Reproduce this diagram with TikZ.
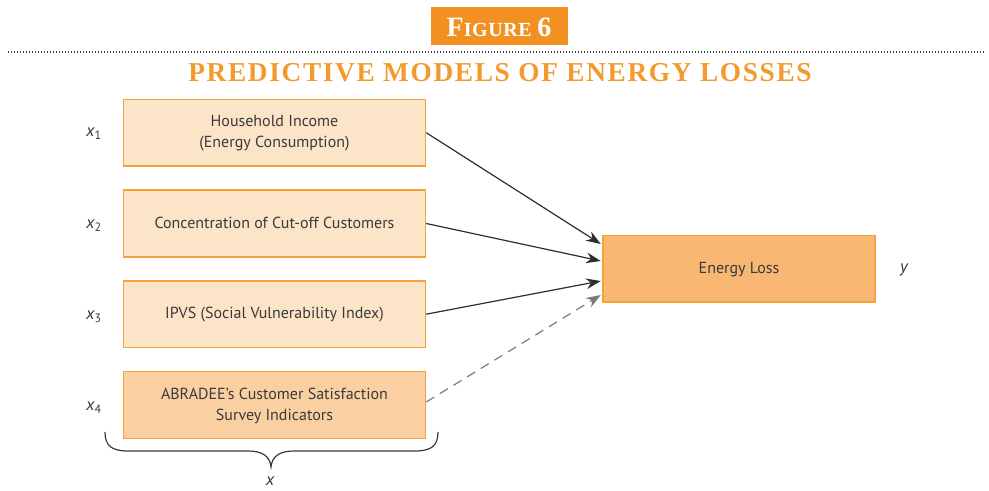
\documentclass[tikz,border=0pt]{standalone}
\usepackage{fontspec}
\setmainfont{PT Sans}
\newfontfamily\titlefont[LetterSpace=6]{Liberation Serif}
\newfontfamily\figfont[LetterSpace=3]{Liberation Serif}
\usetikzlibrary{arrows.meta,calc}
\definecolor{boxlight}{HTML}{FCE4C8}
\definecolor{boxmid}{HTML}{FAD0A2}
\definecolor{boxdark}{HTML}{F9B774}
\definecolor{boxline}{HTML}{F6A23A}
\definecolor{orangetitle}{HTML}{F39A2E}
\definecolor{figorange}{HTML}{F29121}
\definecolor{textgray}{HTML}{3A3A3A}
\definecolor{arrowgray}{HTML}{2E2E2E}
\definecolor{dashgray}{HTML}{7A7A7A}
\begin{document}
\begin{tikzpicture}[x=0.75pt,y=-0.75pt,
  factorbox/.style={draw=boxline, line width=1.1pt, minimum width=226.5pt, minimum height=50pt,
    align=center, text=textgray, font=\fontsize{12pt}{15.5pt}\selectfont, inner sep=0pt, text depth=1.5pt},
  varlabel/.style={text=textgray, font=\fontsize{13pt}{15pt}\selectfont\itshape, inner sep=0pt},
  solidarrow/.style={draw=arrowgray, line width=0.9pt, -{Stealth[length=11pt,width=8pt]}},
  dasharrow/.style={draw=dashgray, line width=0.9pt, dash pattern=on 7pt off 5pt, -{Stealth[length=11pt,width=8pt]}}
]
\useasboundingbox (0,0) rectangle (989,491);
% header
\node[fill=figorange, minimum width=102.5pt, minimum height=28.5pt, inner sep=0pt] (figbox) at (499.5,25.7) {};
\node[text=white, anchor=base, inner sep=0pt] (figtext) at (499,37)
  {\figfont\bfseries\fontsize{21pt}{21pt}\selectfont F\fontsize{15pt}{15pt}\selectfont IGURE \fontsize{21pt}{21pt}\selectfont 6};
\coordinate (dotl) at (8,52);
\coordinate (dotr) at (986,52);
\draw[draw=textgray, line width=1pt, dash pattern=on 0.75pt off 1.5pt] (dotl) -- (dotr);
\node[text=orangetitle, anchor=base, inner sep=0pt] (title) at (500,82)
  {\titlefont\bfseries\fontsize{20.5pt}{20.5pt}\selectfont PREDICTIVE MODELS OF ENERGY LOSSES};
% boxes
\node[factorbox, fill=boxlight] (b1) at (274.5,132.7) {Household Income\\(Energy Consumption)};
\node[factorbox, fill=boxlight] (b2) at (274.5,223.5) {Concentration of Cut-off Customers};
\node[factorbox, fill=boxlight] (b3) at (274.5,314.2) {IPVS (Social Vulnerability Index)};
\node[factorbox, fill=boxmid] (b4) at (274.5,405) {ABRADEE’s Customer Satisfaction\\Survey Indicators};
\node[factorbox, fill=boxdark, minimum width=204pt] (e) at (739,268.7) {Energy Loss};
% labels
\node[varlabel] (l1) at (94,134) {x\textsubscript{\upshape 1}};
\node[varlabel] (l2) at (94,226) {x\textsubscript{\upshape 2}};
\node[varlabel] (l3) at (94,317) {x\textsubscript{\upshape 3}};
\node[varlabel] (l4) at (94,408) {x\textsubscript{\upshape 4}};
\node[varlabel] (ly) at (904,270) {y};
\node[varlabel] (lx) at (270,481) {x};
% arrows
\draw[solidarrow] (b1.east) -- ($(e.west)+(-1.5,-24.7)$);
\draw[solidarrow] (b2.east) -- ($(e.west)+(-1.5,-7.7)$);
\draw[solidarrow] (b3.east) -- ($(e.west)+(-1.5,12.3)$);
\draw[dasharrow] ($(b4.east)+(0,-3)$) -- ($(e.west)+(-1.5,26.3)$);
% brace
\coordinate (brl) at (105,432);
\coordinate (brr) at (438,432);
\coordinate (brtip) at (271,467);
\draw[draw=textgray, line width=0.9pt] (brl) .. controls (105,446) and (112,451) .. (128,451) -- (248,451)
  .. controls (262,451) and (270,456) .. (brtip)
  .. controls (272,456) and (280,451) .. (294,451) -- (415,451)
  .. controls (431,451) and (438,446) .. (brr);
\end{tikzpicture}
\end{document}
